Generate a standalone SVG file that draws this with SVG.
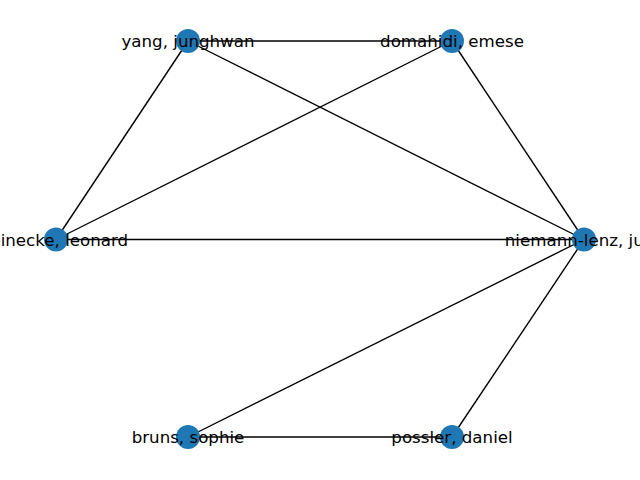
<svg xmlns="http://www.w3.org/2000/svg" width="640" height="480" viewBox="0 0 640 480">
<style>
.e{stroke:#000;stroke-width:1.39;fill:none}
.n{fill:#1f77b4}
.t{font-family:"DejaVu Sans",sans-serif;font-size:16.67px;fill:#000;text-anchor:middle}
</style>
<rect width="640" height="480" fill="#fff"/>
<g id="edges">
<line class="e" x1="188" y1="41" x2="452" y2="41"/>
<line class="e" x1="188" y1="41" x2="56" y2="239.5"/>
<line class="e" x1="188" y1="41" x2="584" y2="239.5"/>
<line class="e" x1="452" y1="41" x2="56" y2="239.5"/>
<line class="e" x1="452" y1="41" x2="584" y2="239.5"/>
<line class="e" x1="56" y1="239.5" x2="584" y2="239.5"/>
<line class="e" x1="584" y1="239.5" x2="188" y2="437"/>
<line class="e" x1="584" y1="239.5" x2="452" y2="437"/>
<line class="e" x1="188" y1="437" x2="452" y2="437"/>
</g>
<g id="node-niemann"><circle class="n" cx="584" cy="239.5" r="12"/><text class="t" x="584" y="245.5">niemann-lenz, julia</text></g>
<g id="node-domahidi"><circle class="n" cx="452" cy="41" r="12"/><text class="t" x="452" y="47">domahidi, emese</text></g>
<g id="node-yang"><circle class="n" cx="188" cy="41" r="12"/><text class="t" x="188" y="47">yang, junghwan</text></g>
<g id="node-reinecke"><circle class="n" cx="56" cy="239.5" r="12"/><text class="t" x="56" y="245.5">reinecke, leonard</text></g>
<g id="node-bruns"><circle class="n" cx="188" cy="437" r="12"/><text class="t" x="188" y="443">bruns, sophie</text></g>
<g id="node-possler"><circle class="n" cx="452" cy="437" r="12"/><text class="t" x="452" y="443">possler, daniel</text></g>
</svg>
